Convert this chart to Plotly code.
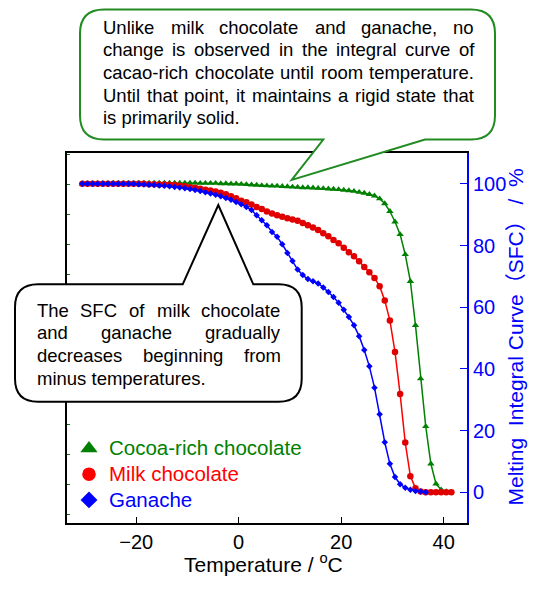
import plotly.graph_objects as go

# ─── データ ────────────────────────────────────────────────────────
TEMP = [
    -30.5, -29.5, -28.5, -27.5, -26.5, -25.5, -24.5, -23.5, -22.5, -21.5, -20.5,
    -19.5, -18.5, -17.5, -16.5, -15.5, -14.5, -13.5, -12.5, -11.5, -10.5,
    -9.5, -8.5, -7.5, -6.5, -5.5, -4.5, -3.5, -2.5, -1.5, -0.5,
    0.5, 1.5, 2.5, 3.5, 4.5, 5.5, 6.5, 7.5, 8.5, 9.5,
    10.5, 11.5, 12.5, 13.5, 14.5, 15.5, 16.5, 17.5, 18.5, 19.5,
    20.5, 21.5, 22.5, 23.5, 24.5, 25.5, 26.5, 27.5, 28.5, 29.5,
    30.5, 31.5, 32.5, 33.5, 34.5, 35.5, 36.5, 37.5, 38.5, 39.5, 40.5, 41.5,
]

COCOA_SFC = [
    100.0, 100.0, 100.1, 100.1, 100.1, 100.1, 100.2, 100.2, 100.2, 100.2, 100.2,
    100.3, 100.3, 100.3, 100.3, 100.3, 100.3, 100.3, 100.3, 100.3, 100.3,
    100.3, 100.3, 100.2, 100.2, 100.2, 100.2, 100.1, 100.1, 100.0, 100.0,
    99.9, 99.8, 99.7, 99.6, 99.5, 99.4, 99.3, 99.3, 99.2, 99.1,
    99.0, 98.9, 98.8, 98.8, 98.7, 98.6, 98.5, 98.4, 98.3, 98.2,
    98.0, 97.8, 97.6, 97.3, 97.0, 96.6, 96.1, 95.2,
    93.6, 91.1, 87.7, 83.6, 77.1, 68.4, 54.1, 36.8, 21.3, 9.2, 2.7, 0.8, 0.2,
]

MILK_SFC = [
    100.0, 100.0, 100.0, 100.0, 100.0, 100.0, 100.0, 100.0, 100.0, 100.0, 100.0,
    100.0, 100.0, 99.9, 99.9, 99.8, 99.8, 99.7, 99.6, 99.4, 99.2,
    98.9, 98.7, 98.4, 98.1, 97.8, 97.5, 97.1, 96.6, 96.0, 95.3,
    94.5, 94.0, 93.3, 92.5, 91.8, 91.0, 90.4, 89.8, 89.3, 88.8,
    88.4, 88.0, 87.3, 86.6, 85.8, 85.0, 84.0, 83.0, 81.8, 80.7,
    79.3, 77.8, 76.5, 74.9, 73.0, 71.3, 69.5, 66.8, 62.2, 55.7,
    45.5, 31.8, 16.1, 5.2, 1.3, 0.2, 0.0, 0.0, 0.0, 0.0, 0.0, 0.0,
]

GANACHE_SFC = [
    100.0, 100.0, 100.0, 100.0, 100.0, 100.0, 100.0, 100.0, 100.0, 100.0, 100.0,
    99.9, 99.8, 99.7, 99.6, 99.5, 99.4, 99.2, 99.0, 98.8, 98.6,
    98.3, 98.0, 97.7, 97.3, 96.9, 96.5, 96.0, 95.4, 94.8, 94.1,
    93.4, 92.5, 91.5, 89.8, 88.2, 86.6, 84.4, 82.8, 80.4, 77.6,
    75.0, 72.2, 70.4, 69.1, 68.4, 67.7, 66.4, 64.9, 63.3, 61.4,
    59.2, 56.8, 54.1, 50.6, 46.1, 40.8, 33.9, 25.3, 16.2, 9.2,
    4.9, 2.6, 1.4, 0.8, 0.4, 0.2, 0.0,
]

SERIES_NAMES = ["Cocoa-rich chocolate", "Milk chocolate", "Ganache"]
X_TICKS = [-20, 0, 20, 40]
Y_TICKS = [0, 20, 40, 60, 80, 100]
X_TITLE = "Temperature / <sup>o</sup>C"
Y_TITLE = "Melting\u00a0 Integral Curve（SFC）\u00a0/\u00a0 %"

TOP_NOTE = [
    "Unlike milk chocolate and ganache, no",
    "change is observed in the integral curve of",
    "cacao-rich chocolate until room temperature.",
    "Until that point, it maintains a rigid state that",
    "is primarily solid.",
]
BOTTOM_NOTE = [
    "The SFC of milk chocolate",
    "and ganache gradually",
    "decreases beginning from",
    "minus temperatures.",
]

# ─── レイアウト ───────────────────────────────────────────────────────────────
# 画面座標（540x590 のウィンドウ）で位置を決める。ページの body 余白 8px 分を差し引く。
PAGE_OFF = 8
WIN_W, WIN_H = 540, 590
PLOT_L, PLOT_R, PLOT_T, PLOT_B = 67, 467, 153, 523
W, H = WIN_W - PAGE_OFF, WIN_H - PAGE_OFF
ML, MR = PLOT_L - PAGE_OFF, WIN_W - PLOT_R
MT, MB = PLOT_T - PAGE_OFF, WIN_H - PLOT_B

FONT = "Liberation Sans, Arial, Noto Sans CJK JP, sans-serif"
GREEN, RED, BLUE = "#008000", "#FF0000", "#0000FF"
NOTE_SIZE = 18.5

# Arial 字幅（1000 単位）— 両端揃えの単語配置用
ARIAL_W = {
    " ": 278, "a": 556, "b": 556, "c": 500, "d": 556, "e": 556, "f": 278, "g": 556,
    "h": 556, "i": 222, "k": 500, "l": 222, "m": 833, "n": 556, "o": 556, "p": 556,
    "r": 333, "s": 500, "t": 278, "u": 556, "v": 500, "w": 722, "y": 500,
    ",": 278, ".": 278, "-": 333, "T": 611, "U": 722, "S": 667, "F": 611, "C": 722,
}


def px(x):
    return (x - PLOT_L) / (PLOT_R - PLOT_L)


def py(y):
    return (PLOT_B - y) / (PLOT_B - PLOT_T)


def pt(x, y):
    return f"{px(x):.5f},{py(y):.5f}"


def text_w(s, size):
    return sum(ARIAL_W.get(c, 556) for c in s) * size / 1000


def add_text_line(fig, text, x0, x1, y, justify):
    """一行を単語ごとに注釈として配置（両端揃え対応）。"""
    words = text.split()
    style = dict(xref="paper", yref="paper", xanchor="left", yanchor="middle",
                 showarrow=False, borderpad=0, borderwidth=0,
                 font=dict(family=FONT, size=NOTE_SIZE, color="black"))
    if not justify or len(words) == 1:
        fig.add_annotation(text=text, x=px(x0), y=py(y), **style)
        return
    widths = [text_w(w, NOTE_SIZE) for w in words]
    gap = (x1 - x0 - sum(widths)) / (len(words) - 1)
    x = x0
    for w, wd in zip(words, widths):
        fig.add_annotation(text=w, x=px(x), y=py(y), **style)
        x += wd + gap


def bubble_top(L, R, T, B, r, base0, base1, tip):
    return (f"M {pt(L + r, T)} L {pt(R - r, T)} Q {pt(R, T)} {pt(R, T + r)} "
            f"L {pt(R, B - r)} Q {pt(R, B)} {pt(R - r, B)} "
            f"L {pt(base1, B)} L {pt(*tip)} L {pt(base0, B)} "
            f"L {pt(L + r, B)} Q {pt(L, B)} {pt(L, B - r)} "
            f"L {pt(L, T + r)} Q {pt(L, T)} {pt(L + r, T)} Z")


def bubble_bottom(L, R, T, B, r, base0, base1, tip):
    return (f"M {pt(L + r, T)} L {pt(base0, T)} L {pt(*tip)} L {pt(base1, T)} "
            f"L {pt(R - r, T)} Q {pt(R, T)} {pt(R, T + r)} "
            f"L {pt(R, B - r)} Q {pt(R, B)} {pt(R - r, B)} "
            f"L {pt(L + r, B)} Q {pt(L, B)} {pt(L, B - r)} "
            f"L {pt(L, T + r)} Q {pt(L, T)} {pt(L + r, T)} Z")


fig = go.Figure()

# ── データ曲線（緑→赤→青の順に重ねる） ───────────────────────────────────────
fig.add_trace(go.Scatter(
    x=TEMP[:len(COCOA_SFC)], y=COCOA_SFC, mode="lines+markers", showlegend=False,
    line=dict(color=GREEN, width=1.5),
    marker=dict(symbol="triangle-up", size=6.5, color=GREEN),
))
fig.add_trace(go.Scatter(
    x=TEMP[:len(MILK_SFC)], y=MILK_SFC, mode="lines+markers", showlegend=False,
    line=dict(color=RED, width=1.5),
    marker=dict(symbol="circle", size=6.5, color="#E00000"),
))
fig.add_trace(go.Scatter(
    x=TEMP[:len(GANACHE_SFC)], y=GANACHE_SFC, mode="lines+markers", showlegend=False,
    line=dict(color=BLUE, width=1.5),
    marker=dict(symbol="diamond", size=5, color=BLUE),
))

# ── 凡例用（データなし） ─────────────────────────────────────────────────────
legend_marks = [("triangle-up", 15, GREEN), ("circle", 13.5, RED), ("diamond", 13, BLUE)]
for name, (sym, size, color) in zip(SERIES_NAMES, legend_marks):
    fig.add_trace(go.Scatter(
        x=[None], y=[None], mode="markers", yaxis="y2",
        name=f"<span style='color:{color};font-size:20.5px'>{name}</span>",
        marker=dict(symbol=sym, size=size, color=color),
    ))

# ── 吹き出し ─────────────────────────────────────────────────────────────────
fig.add_shape(type="path", xref="paper", yref="paper", layer="above",
              path=bubble_top(80, 495, 9.5, 139.5, 24, 323.3, 425, (291.7, 180)),
              line=dict(color="#228B22", width=2), fillcolor="white")
fig.add_shape(type="path", xref="paper", yref="paper", layer="above",
              path=bubble_bottom(15, 301.7, 284.3, 401.7, 23, 182.7, 253.3, (218.3, 205)),
              line=dict(color="black", width=2), fillcolor="white")

for i, line in enumerate(TOP_NOTE):
    add_text_line(fig, line, 103.3, 474.0, 27.5 + 22.5 * i, justify=i < len(TOP_NOTE) - 1)
for i, line in enumerate(BOTTOM_NOTE):
    add_text_line(fig, line, 36.7, 280.5, 310.0 + 22.7 * i, justify=i < len(BOTTOM_NOTE) - 1)

# ── 軸タイトル（注釈で位置固定） ─────────────────────────────────────────────
fig.add_annotation(text=X_TITLE, x=px(263), y=py(562.5), xref="paper", yref="paper",
                   xanchor="center", yanchor="middle", showarrow=False,
                   font=dict(family=FONT, size=21, color="black"))
fig.add_annotation(text=Y_TITLE, x=px(515), y=py(337.5), xref="paper", yref="paper",
                   xanchor="center", yanchor="middle", showarrow=False, textangle=-90,
                   font=dict(family=FONT, size=21, color=BLUE))

fig.update_layout(
    width=W, height=H,
    margin=dict(l=ML, r=MR, t=MT, b=MB, autoexpand=False),
    paper_bgcolor="white", plot_bgcolor="white",
    font=dict(family=FONT, color="black"),
    legend=dict(x=px(69), y=py(430.5), xanchor="left", yanchor="top",
                bgcolor="rgba(0,0,0,0)", font=dict(family=FONT, size=17.5),
                itemwidth=30, traceorder="normal"),
    xaxis=dict(
        range=[-33.5, 44.55], tickvals=X_TICKS, ticks="inside", ticklen=6,
        tickcolor="black", showline=True, linecolor="black", linewidth=1.5,
        mirror=True, showgrid=False, zeroline=False, automargin=False,
        tickfont=dict(size=20, color="black"),
    ),
    yaxis=dict(
        side="right", range=[-10, 110], tickvals=Y_TICKS, ticks="inside", ticklen=7,
        tickcolor=BLUE, showline=True, linecolor=BLUE, linewidth=2,
        showgrid=False, zeroline=False, automargin=False,
        tickfont=dict(size=20, color=BLUE),
    ),
    yaxis2=dict(
        overlaying="y", side="left", range=[0, 370 / 30], tick0=0.27, dtick=1,
        ticks="inside", ticklen=3, tickcolor=GREEN, showticklabels=False,
        showline=True, linecolor="black", linewidth=1.5,
        showgrid=False, zeroline=False, automargin=False,
    ),
)

fig.write_html("out.html")
